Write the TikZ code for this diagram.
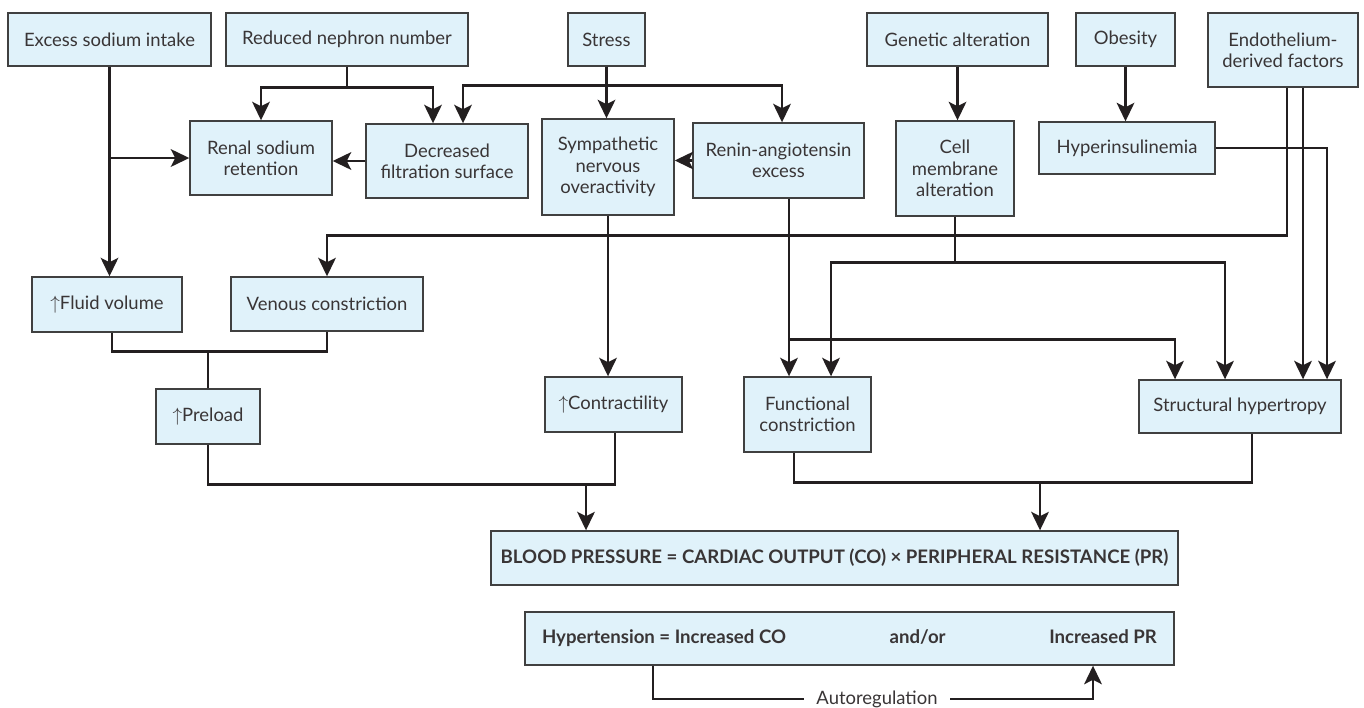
\documentclass[tikz,border=0pt]{standalone}
\usepackage{fontspec}
\setmainfont{Lato}
\usetikzlibrary{arrows.meta,calc}

\definecolor{boxfill}{RGB}{224,242,250}
\definecolor{boxline}{RGB}{64,64,64}
\definecolor{ink}{RGB}{35,31,32}

\begin{document}
\begin{tikzpicture}[x=0.02cm,y=-0.02cm,
    box/.style 2 args={draw=boxline,fill=boxfill,line width=0.8pt,inner sep=0pt,
      minimum width=#1*0.02cm,minimum height=#2*0.02cm,align=center,
      text=ink!90,font=\fontsize{10.5}{12.2}\selectfont},
    con/.style={draw=ink,line width=1.6pt},
    arr/.style={con,-{Stealth[length=10.5pt,width=10pt,inset=2.5pt]}}]
        \useasboundingbox (0,0) rectangle (1364,707);

        % top row of causes
        \node[box={203}{53}] (excess) at (109.5,39.5) {Excess sodium intake};
        \node[box={242}{53}] (nephron) at (347,39.5) {Reduced nephron number};
        \node[box={77}{53}] (stress) at (606.5,39.5) {Stress};
        \node[box={181}{53}] (genetic) at (957.5,39.5) {Genetic alteration};
        \node[box={99}{53}] (obesity) at (1125.5,39.5) {Obesity};
        \node[box={150}{74}] (endo) at (1283,50) {Endothelium-\\derived factors};
        % second row
        \node[box={142}{74}] (renal) at (261,158) {Renal sodium\\retention};
        \node[box={162}{74}] (decreased) at (447,161) {Decreased\\filtration surface};
        \node[box={132}{96}] (symp) at (608,167) {Sympathetic\\nervous\\overactivity};
        \node[box={171}{75}] (renin) at (778.5,160.5) {Renin-angiotensin\\excess};
        \node[box={118}{95}] (cell) at (955,168.5) {Cell\\membrane\\alteration};
        \node[box={176}{52}] (hyperins) at (1127,148) {Hyperinsulinemia};
        % volume and constriction
        \node[box={150}{55}] (fluid) at (107,304.5) {$\uparrow$Fluid volume};
        \node[box={192}{54}] (venous) at (327,304) {Venous constriction};
        \node[box={104}{55}] (preload) at (208,416.5) {$\uparrow$Preload};
        \node[box={137}{55}] (contr) at (613.5,404.5) {$\uparrow$Contractility};
        \node[box={127}{75}] (func) at (807.5,414.5) {Functional\\constriction};
        \node[box={202}{53}] (struct) at (1240,406.5) {Structural hypertropy};
        % the two equations
        \node[box={687}{54},font=\bfseries\fontsize{10.6}{12}\selectfont] (bp) at (834.5,558)
          {BLOOD PRESSURE = CARDIAC OUTPUT (CO) × PERIPHERAL RESISTANCE (PR)};
        \node[box={649}{53},font=\bfseries\fontsize{10.6}{12}\selectfont] (hyp) at (849.5,638.5)
          {\makebox[12.3cm][s]{Hypertension = Increased CO\hfill and/or\hfill Increased PR}};

        % arrows from the top row
        \draw[arr] (excess.south) -- (excess.south |- fluid.north);
        \draw[arr] (excess.south |- renal.west) -- (renal.west);
        \draw[arr] (nephron.south) -- ++(0,21) -| (renal.north);
        \draw[arr] (nephron.south) -- ++(0,21) -| ($(decreased.north)+(-14,0)$);
        \draw[arr] (stress.south) -- ++(0,19) -| ($(decreased.north)+(16,0)$);
        \draw[arr] (stress.south) -- (stress.south |- symp.north);
        \draw[arr] (stress.south) -- ++(0,19) -| ($(renin.north)+(3.5,0)$);
        \draw[arr] (genetic.south) -- (genetic.south |- cell.north);
        \draw[arr] (obesity.south) -- (obesity.south |- hyperins.north);
        % side arrows
        \draw[arr] (decreased.west) -- (decreased.west -| renal.east);
        \draw[arr] (renin.west) -- (renin.west -| symp.east);
        % down to the third row
        \draw[arr] (symp.south) -- (symp.south |- contr.north);
        \coordinate (r1) at ($(renin.south)+(10.5,0)$);
        \draw[arr] (r1) -- (r1 |- func.north);
        \draw[arr] (r1) ++(0,141) -| ($(struct.north)+(-65,0)$);
        \draw[arr] (cell.south) -- ++(0,46) -| ($(func.north)+(23.5,0)$);
        \draw[arr] (cell.south) -- ++(0,46) -| ($(struct.north)+(-15,0)$);
        \draw[arr] (hyperins.east) -| ($(struct.north)+(87,0)$);
        \coordinate (e1) at ($(endo.south)+(4,0)$);
        \coordinate (e2) at ($(endo.south)+(20,0)$);
        \draw[arr] (e1) -- ++(0,148) -| (venous.north);
        \draw[arr] (e2) -- (e2 |- struct.north);
        % joining lines into preload and blood pressure
        \draw[con] ($(fluid.south)+(5,0)$) -- ++(0,19) -| (venous.south);
        \draw[con] (preload.north) -- ++(0,-38);
        \draw[con] (preload.south) -- ++(0,40) -| ($(contr.south)+(1.5,0)$);
        \draw[arr] ($(bp.north)+(-248.5,-47)$) -- ++(0,47);
        \draw[con] ($(func.south)+(-13.5,0)$) -- ++(0,30) -| ($(struct.south)+(12,0)$);
        \draw[arr] ($(bp.north)+(205.5,-49)$) -- ++(0,49);

        % autoregulation loop
        \node[font=\fontsize{10.5}{12}\selectfont,text=ink!90,inner xsep=7pt,inner ysep=0pt] (auto) at (877,699) {Autoregulation};
        \draw[con] ($(hyp.south)+(-196.5,0)$) |- (auto.west);
        \draw[arr] (auto.east) -| ($(hyp.south)+(243.5,0)$);
\end{tikzpicture}
\end{document}
